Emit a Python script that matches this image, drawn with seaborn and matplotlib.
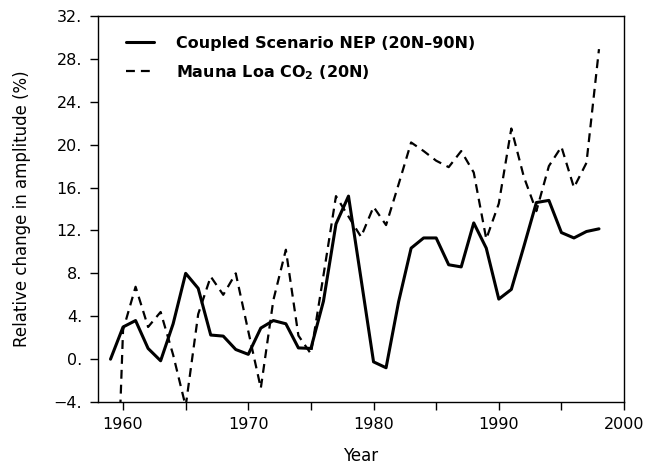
import numpy as np
import pandas as pd
import seaborn as sns
import matplotlib.pyplot as plt
from matplotlib.ticker import MultipleLocator, FuncFormatter

years = list(range(1959, 1999))

# relative change in seasonal amplitude (%)
nep = [0.0, 3.0, 3.6, 1.0, -0.15, 3.3, 8.0, 6.6, 2.25, 2.15,
       0.9, 0.45, 2.9, 3.6, 3.3, 1.05, 1.0, 5.4, 12.6, 15.2,
       7.5, -0.25, -0.8, 5.35, 10.35, 11.3, 11.3, 8.8, 8.6, 12.7,
       10.35, 5.6, 6.5, 10.5, 14.6, 14.8, 11.8, 11.3, 11.9, 12.15]

co2 = [-30.0, 2.7, 6.75, 3.0, 4.4, 0.4, -4.4, 4.2, 7.7, 6.0,
       8.0, 2.6, -2.7, 5.5, 10.2, 2.2, 0.5, 7.8, 15.2, 13.3,
       11.4, 14.2, 12.5, 16.3, 20.2, 19.4, 18.5, 17.9, 19.4, 17.4,
       11.2, 14.5, 21.5, 17.0, 13.8, 18.0, 19.8, 16.0, 18.3, 28.9]

df = pd.DataFrame({'Year': years, 'NEP': nep, 'CO2': co2})

sns.set_style('ticks')
plt.rcParams['font.family'] = ['DejaVu Sans']
plt.rcParams['text.color'] = 'black'
plt.rcParams['axes.labelcolor'] = 'black'

fig = plt.figure(figsize=(6.46, 4.67), dpi=100)
ax = fig.add_axes([0.1517, 0.139, 0.8143, 0.827])

sns.lineplot(data=df, x='Year', y='NEP', ax=ax, color='black', linewidth=2.2,
             label='Coupled Scenario NEP (20N\u201390N)')
sns.lineplot(data=df, x='Year', y='CO2', ax=ax, color='black', linewidth=1.6,
             linestyle=(0, (4, 2.7)), label='Mauna Loa CO$_\\mathbf{2}$ (20N)')

ax.set_xlim(1958, 2000)
ax.set_ylim(-4, 32)
ax.xaxis.set_major_locator(MultipleLocator(5))
ax.yaxis.set_major_locator(MultipleLocator(4))
ax.xaxis.set_major_formatter(FuncFormatter(lambda v, p: f'{int(v)}' if v % 10 == 0 else ''))
ax.yaxis.set_major_formatter(FuncFormatter(lambda v, p: f'{int(v)}.'.replace('-', '\u2212')))
ax.tick_params(direction='out', length=5.5, width=1, labelsize=11.5, colors='black')
ax.tick_params(axis='x', pad=5)
ax.tick_params(axis='y', pad=6)
for s in ax.spines.values():
    s.set_color('black')
    s.set_linewidth(1)

ax.set_xlabel('Year', fontsize=12, labelpad=11)
ax.set_ylabel('Relative change in amplitude (%)', fontsize=12, labelpad=16)

leg = ax.legend(loc='upper left', bbox_to_anchor=(0.026, 0.985), frameon=False,
                handlelength=1.75, handletextpad=1.4, labelspacing=0.75,
                prop={'weight': 'bold', 'size': 11.5})

fig.savefig('out.png', dpi=100)
